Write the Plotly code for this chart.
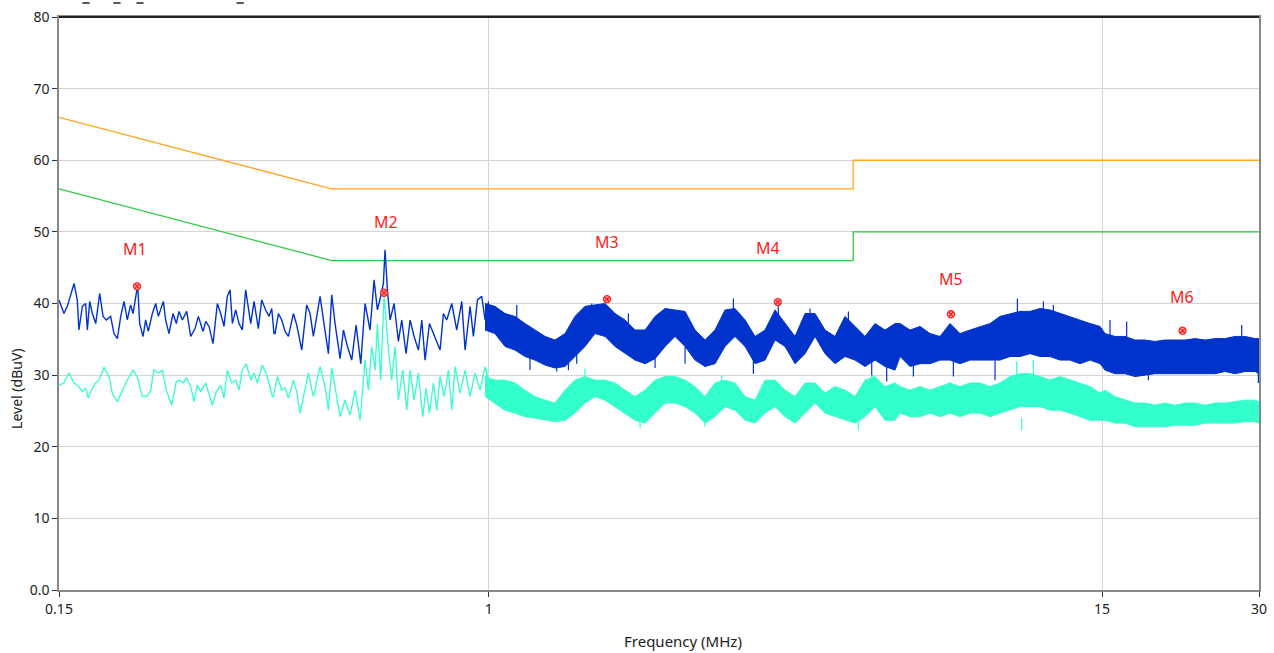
import math
import plotly.graph_objects as go

# --- limit lines (CISPR class B), MHz / dBuV ---
limit_freq = [0.15, 0.5, 5.0, 5.0, 30.0]
qp_limit = [66, 56, 56, 60, 60]
avg_limit = [56, 46, 46, 50, 50]

# --- peak trace (blue), resolved part below 1 MHz ---
peak_freq_low = [
    0.1500, 0.1533, 0.1556, 0.1603, 0.1626, 0.1638, 0.1663, 0.1687,
    0.1700, 0.1718, 0.1738, 0.1764, 0.1795, 0.1822, 0.1849, 0.1884,
    0.1912, 0.1941, 0.1970, 0.1999, 0.2028, 0.2058, 0.2080, 0.2123,
    0.2142, 0.2174, 0.2199, 0.2225, 0.2265, 0.2299, 0.2326, 0.2378,
    0.2402, 0.2438, 0.2481, 0.2518, 0.2548, 0.2586, 0.2636, 0.2683,
    0.2735, 0.2775, 0.2833, 0.2867, 0.2909, 0.2961, 0.3018, 0.3063,
    0.3108, 0.3154, 0.3192, 0.3225, 0.3273, 0.3321, 0.3370, 0.3420,
    0.3497, 0.3549, 0.3617, 0.3671, 0.3736, 0.3792, 0.3837, 0.3876,
    0.3894, 0.3952, 0.4010, 0.4070, 0.4130, 0.4222, 0.4285, 0.4381,
    0.4478, 0.4545, 0.4612, 0.4750, 0.4821, 0.4928, 0.5001, 0.5075,
    0.5189, 0.5266, 0.5360, 0.5463, 0.5569, 0.5685, 0.5794, 0.5923,
    0.6029, 0.6118, 0.6208, 0.6282, 0.6328, 0.6395, 0.6470, 0.6586,
    0.6713, 0.6813, 0.6944, 0.7068, 0.7194, 0.7333, 0.7442, 0.7552,
    0.7698, 0.7835, 0.7951, 0.8069, 0.8189, 0.8310, 0.8496, 0.8685,
    0.8879, 0.9011, 0.9212, 0.9348, 0.9516, 0.9699, 0.9843, 0.9989,
]
peak_level_low = [
    40.5, 38.6, 39.6, 42.8, 40.5, 36.3, 39.6, 40.0,
    36.3, 40.3, 38.6, 37.2, 41.4, 38.2, 37.7, 38.2,
    35.8, 35.1, 38.2, 40.3, 37.7, 39.8, 38.6, 42.6,
    37.2, 35.4, 37.7, 36.1, 38.6, 40.0, 38.2, 40.3,
    37.7, 35.8, 38.6, 37.2, 38.9, 37.7, 38.9, 35.4,
    36.5, 38.2, 36.1, 37.5, 36.8, 34.4, 40.0, 38.6,
    36.8, 41.0, 41.9, 37.2, 39.1, 37.2, 36.3, 41.9,
    37.2, 40.3, 36.5, 40.5, 39.1, 38.2, 39.3, 35.8,
    35.8, 38.6, 37.7, 36.1, 35.4, 38.6, 37.0, 33.5,
    39.8, 38.6, 35.4, 41.0, 37.7, 33.0, 41.2, 37.2,
    32.3, 36.3, 34.0, 32.1, 37.0, 31.6, 40.0, 36.3,
    43.3, 39.1, 41.0, 42.8, 47.5, 41.9, 37.7, 40.0,
    34.7, 37.7, 33.0, 37.7, 35.4, 33.5, 37.7, 32.1,
    37.2, 35.8, 34.9, 33.5, 38.6, 37.7, 40.0, 36.3,
    40.3, 33.5, 39.6, 35.4, 40.5, 41.0, 37.7, 40.0,
]

# --- average trace (cyan), resolved part below 1 MHz ---
avg_freq_low = [
    0.1500, 0.1533, 0.1568, 0.1603, 0.1638, 0.1663, 0.1687, 0.1707,
    0.1738, 0.1764, 0.1790, 0.1830, 0.1871, 0.1898, 0.1941, 0.1984,
    0.2028, 0.2080, 0.2120, 0.2167, 0.2216, 0.2249, 0.2282, 0.2326,
    0.2367, 0.2409, 0.2467, 0.2518, 0.2556, 0.2594, 0.2636, 0.2683,
    0.2723, 0.2763, 0.2804, 0.2867, 0.2909, 0.2952, 0.3005, 0.3063,
    0.3108, 0.3154, 0.3215, 0.3273, 0.3321, 0.3370, 0.3430, 0.3497,
    0.3549, 0.3601, 0.3681, 0.3764, 0.3848,
    0.3865, 0.3934, 0.4010, 0.4070, 0.4130, 0.4222, 0.4285, 0.4349,
    0.4446, 0.4511, 0.4612, 0.4750, 0.4856, 0.4928, 0.5001, 0.5113,
    0.5189, 0.5304, 0.5423, 0.5544, 0.5668, 0.5794, 0.5880, 0.5967,
    0.6056, 0.6118, 0.6208, 0.6301, 0.6423, 0.6518, 0.6615, 0.6713,
    0.6843, 0.6965, 0.7068, 0.7194, 0.7333, 0.7475, 0.7586, 0.7698,
    0.7835, 0.7951, 0.8069, 0.8213, 0.8372, 0.8496, 0.8622, 0.8814,
    0.9011, 0.9212, 0.9418, 0.9628, 0.9843, 0.9989,
]
avg_level_low = [
    28.6, 28.9, 30.3, 28.9, 28.4, 27.7, 28.2, 26.8,
    28.2, 28.9, 29.3, 31.1, 29.8, 27.5, 26.3, 27.9,
    29.3, 30.7, 29.8, 27.0, 27.1, 27.9, 30.8, 30.3,
    30.7, 27.9, 25.8, 29.1, 29.3, 28.9, 29.6, 28.4,
    26.3, 28.6, 27.7, 28.9, 27.5, 25.8, 27.7, 28.6,
    26.8, 30.7, 28.9, 29.3, 27.9, 30.7, 31.6, 29.3,
    30.3, 28.9, 31.4, 29.8, 27.0,
    27.0, 29.8, 27.9, 28.2, 26.8, 29.3, 27.7, 24.7,
    28.4, 30.3, 27.0, 31.2, 28.4, 25.1, 31.0, 27.0,
    24.2, 26.5, 24.4, 27.9, 23.7, 32.1, 27.9, 34.0,
    30.7, 37.2, 29.3, 41.0, 33.5, 29.3, 34.0, 26.5,
    30.7, 25.1, 30.7, 26.5, 30.3, 24.2, 28.2, 24.7,
    28.9, 25.1, 29.8, 27.0, 30.7, 25.1, 31.2, 27.5,
    30.7, 27.0, 30.3, 27.9, 31.2, 29.3,
]

# --- dense part above 1 MHz: band envelopes ---
band_freq = [
    0.984, 1.028, 1.075, 1.123, 1.174, 1.227, 1.283, 1.340, 1.401, 1.464, 1.530,
    1.599, 1.672, 1.747, 1.826, 1.908, 1.995, 2.085, 2.179, 2.277, 2.380, 2.487,
    2.599, 2.717, 2.839, 2.967, 3.102, 3.242, 3.388, 3.541, 3.701, 3.868,
    4.042, 4.225, 4.416, 4.615, 4.823, 5.041, 5.268, 5.506, 5.755, 6.015,
    6.149, 6.427, 6.717, 7.020, 7.337, 7.668, 8.014, 8.376, 8.754, 9.150, 9.562,
    9.994, 10.445, 10.917, 11.410, 11.925, 12.464, 13.026, 13.614, 14.229, 14.871,
    15.201, 15.888, 16.605, 17.355, 18.139, 18.958, 19.814, 20.709, 21.644,
    22.621, 23.643, 24.710, 25.826, 26.992, 28.211, 29.484, 30.0,
]
peak_band_high = [
    40.0, 39.6, 38.6, 38.2, 37.2, 36.3, 35.4, 34.9, 35.8, 38.2, 39.6,
    39.8, 40.0, 38.6, 37.7, 36.3, 36.3, 38.2, 39.3, 39.1, 38.9, 36.3,
    34.9, 36.3, 39.1, 39.3, 37.7, 35.4, 36.3, 39.1, 37.2, 35.4,
    38.6, 38.6, 36.3, 35.4, 38.2, 36.8, 35.4, 37.2, 36.3, 37.2,
    37.2, 36.3, 36.8, 35.8, 35.4, 37.2, 35.8, 36.3, 36.8, 37.2, 38.2,
    38.6, 38.9, 38.9, 39.3, 39.1, 38.6, 38.2, 37.7, 37.2, 36.8,
    35.8, 35.4, 35.4, 34.9, 34.9, 34.7, 34.9, 34.9, 34.9,
    35.1, 34.9, 35.1, 35.1, 35.4, 35.4, 35.1, 35.1,
]
peak_band_low = [
    36.3, 35.8, 34.0, 33.5, 32.6, 32.1, 31.4, 31.0, 31.2, 32.6, 34.0,
    35.8, 35.4, 34.0, 33.0, 32.1, 31.6, 32.3, 34.0, 35.4, 34.0, 32.1,
    31.2, 31.6, 34.0, 35.4, 34.0, 31.6, 32.1, 34.9, 34.0, 31.6,
    33.0, 35.4, 33.0, 31.6, 32.6, 32.1, 31.2, 32.1, 31.2, 30.7,
    32.6, 31.2, 31.6, 31.6, 32.1, 32.1, 31.6, 32.1, 32.1, 32.1, 32.1,
    32.6, 32.6, 33.0, 32.6, 32.6, 32.1, 32.1, 31.6, 32.1, 31.6,
    30.7, 30.2, 30.2, 29.8, 30.0, 30.2, 30.2, 30.2, 30.2,
    30.2, 30.2, 30.2, 30.5, 30.2, 30.5, 30.5, 30.2,
]
avg_band_high = [
    29.8, 29.3, 29.3, 28.9, 27.9, 27.0, 26.5, 26.1, 27.9, 29.3, 29.8,
    29.3, 29.3, 28.9, 27.9, 27.0, 27.9, 29.3, 29.8, 29.8, 29.3, 28.4,
    27.0, 28.9, 29.3, 28.9, 27.0, 26.5, 29.3, 29.3, 27.9, 27.0,
    28.9, 28.9, 27.5, 28.4, 27.9, 27.0, 29.3, 29.8, 28.4, 28.9,
    28.4, 27.9, 28.4, 27.9, 28.4, 28.9, 28.4, 28.9, 28.9, 28.4, 28.9,
    29.8, 30.2, 30.2, 29.8, 29.3, 29.8, 29.3, 28.9, 28.4, 27.5,
    27.9, 27.0, 26.5, 26.1, 26.1, 25.8, 26.1, 25.8, 26.1,
    26.1, 25.8, 26.1, 26.1, 26.3, 26.5, 26.5, 26.3,
]
avg_band_low = [
    27.0, 26.1, 25.1, 24.7, 24.2, 24.0, 23.7, 23.5, 23.7, 24.7, 26.1,
    27.0, 26.5, 25.6, 24.7, 23.7, 23.3, 24.7, 26.1, 26.1, 25.6, 24.7,
    23.3, 24.2, 25.6, 25.1, 23.7, 23.3, 24.7, 25.6, 24.2, 23.3,
    24.7, 26.1, 24.7, 24.2, 23.7, 23.3, 24.2, 25.6, 23.7, 23.7,
    24.7, 24.2, 24.2, 24.7, 24.2, 24.7, 24.2, 24.7, 24.7, 24.2, 24.7,
    25.1, 25.6, 25.6, 25.6, 25.1, 25.1, 24.7, 24.2, 23.7, 23.7,
    23.7, 23.3, 23.3, 22.8, 22.8, 22.8, 22.8, 23.0, 23.0,
    23.0, 23.3, 23.3, 23.3, 23.3, 23.5, 23.5, 23.3,
]

# isolated spikes sticking out of the dense bands (freq, from, to)
peak_spike_freq = [0.9986, 1.132, 1.200, 1.350, 1.422, 1.475, 1.576, 1.853,
                   2.085, 2.380, 2.946, 3.218, 3.593, 4.132, 4.895, 5.426,
                   5.797, 6.522, 7.782, 9.353, 10.323, 11.579, 12.102,
                   15.540, 16.727, 18.407, 27.79, 29.92]
peak_spike_from = [36.3, 37.0, 34.0, 33.0, 33.0, 34.0, 37.0, 35.0,
                   33.5, 34.0, 37.0, 33.0, 36.0, 36.5, 36.0, 32.0,
                   31.5, 32.0, 32.0, 32.0, 38.0, 38.0, 38.0,
                   35.0, 35.0, 30.5, 35.0, 30.5]
peak_spike_to = [40.3, 39.8, 30.7, 30.5, 30.7, 31.6, 40.0, 38.6,
                 31.0, 31.6, 40.7, 30.2, 39.6, 39.3, 38.9, 29.8,
                 29.1, 29.8, 29.8, 29.3, 40.7, 40.3, 39.8,
                 37.7, 37.5, 29.3, 37.0, 28.9]
avg_spike_freq = [0.991, 1.530, 1.951, 2.599, 2.797, 5.116, 5.426,
                  10.29, 10.52, 11.078]
avg_spike_from = [29.0, 29.0, 24.0, 24.0, 28.5, 23.5, 29.0, 29.5, 24.0, 30.0]
avg_spike_to = [30.9, 30.9, 22.6, 22.8, 30.0, 22.3, 30.0, 31.9, 22.3, 32.1]

# --- markers ---
marker_names = ["M1", "M2", "M3", "M4", "M5", "M6"]
marker_freq = [0.2117, 0.630, 1.686, 3.585, 7.70, 21.4]
marker_level = [42.4, 41.5, 40.6, 40.2, 38.5, 36.2]

assert len(peak_freq_low) == len(peak_level_low)
assert len(avg_freq_low) == len(avg_level_low)
for arr in (peak_band_high, peak_band_low, avg_band_high, avg_band_low):
    assert len(arr) == len(band_freq)
assert len(peak_spike_freq) == len(peak_spike_from) == len(peak_spike_to)
assert len(avg_spike_freq) == len(avg_spike_from) == len(avg_spike_to)


def spike_xy(freqs, lo, hi):
    xs, ys = [], []
    for f, a, b in zip(freqs, lo, hi):
        xs += [f, f, None]
        ys += [a, b, None]
    return xs, ys


BLUE = "#0033cc"
CYAN = "#33ffcc"
ORANGE = "#ffa526"
GREEN = "#2ecc40"
RED = "#ff2020"
FONT = "Noto Sans"

fig = go.Figure()

fig.add_trace(go.Scatter(x=limit_freq, y=qp_limit, mode="lines",
                         line=dict(color=ORANGE, width=1.3)))
fig.add_trace(go.Scatter(x=limit_freq, y=avg_limit, mode="lines",
                         line=dict(color=GREEN, width=1.3)))

# blue (peak)
fig.add_trace(go.Scatter(x=peak_freq_low, y=peak_level_low, mode="lines",
                         line=dict(color=BLUE, width=1.4)))
fig.add_trace(go.Scatter(x=band_freq, y=peak_band_high, mode="lines",
                         line=dict(color=BLUE, width=1)))
fig.add_trace(go.Scatter(x=band_freq, y=peak_band_low, mode="lines",
                         line=dict(color=BLUE, width=1),
                         fill="tonexty", fillcolor=BLUE))
sx, sy = spike_xy(peak_spike_freq, peak_spike_from, peak_spike_to)
fig.add_trace(go.Scatter(x=sx, y=sy, mode="lines",
                         line=dict(color=BLUE, width=1.2)))

# cyan (average)
fig.add_trace(go.Scatter(x=avg_freq_low, y=avg_level_low, mode="lines",
                         line=dict(color=CYAN, width=1.3)))
fig.add_trace(go.Scatter(x=band_freq, y=avg_band_high, mode="lines",
                         line=dict(color=CYAN, width=1)))
fig.add_trace(go.Scatter(x=band_freq, y=avg_band_low, mode="lines",
                         line=dict(color=CYAN, width=1),
                         fill="tonexty", fillcolor=CYAN))
sx, sy = spike_xy(avg_spike_freq, avg_spike_from, avg_spike_to)
fig.add_trace(go.Scatter(x=sx, y=sy, mode="lines",
                         line=dict(color=CYAN, width=1.2)))

fig.add_trace(go.Scatter(x=marker_freq, y=marker_level, mode="markers",
                         marker=dict(symbol="circle-x", size=7, color="#ffb0b0",
                                     line=dict(color=RED, width=1.3))))

# marker labels sit at different heights above their points
label_yshift = [37, 71, 57, 54, 35, 34]
label_xshift = [-2, 2, 0, -10, 0, 0]
for name, f, lv, ys, xs in zip(marker_names, marker_freq, marker_level,
                               label_yshift, label_xshift):
    fig.add_annotation(x=math.log10(f), y=lv, xref="x", yref="y", text=name,
                       showarrow=False, yshift=ys, xshift=xs,
                       font=dict(family=FONT, size=16, color=RED))

fig.add_annotation(x=0.52, y=-0.089, xref="paper", yref="paper",
                   xanchor="center", yanchor="middle",
                   text="Frequency (MHz)", showarrow=False,
                   font=dict(family=FONT, size=15, color="#222"))
fig.add_annotation(x=-0.035, y=0.351, xref="paper", yref="paper",
                   xanchor="center", yanchor="middle", textangle=-90,
                   text="Level (dBuV)", showarrow=False,
                   font=dict(family=FONT, size=14, color="#222"))

# clipped header remnants at the very top: tiny dashes
for px in [0.0225, 0.0483, 0.0675, 0.151]:
    fig.add_shape(type="line", xref="paper", yref="paper",
                  x0=px - 0.003, x1=px + 0.003, y0=1.0244, y1=1.0244,
                  line=dict(color="#222", width=1.5))

fig.add_shape(type="line", xref="paper", yref="paper", x0=0, x1=1, y0=1, y1=1,
              line=dict(color="#222", width=2))

fig.update_layout(
    width=1274, height=653,
    margin=dict(l=59, r=15, t=17, b=63),
    paper_bgcolor="white", plot_bgcolor="white",
    showlegend=False,
    font=dict(family=FONT, size=14, color="#222"),
    xaxis=dict(type="log", range=[math.log10(0.15), math.log10(30)],
               tickvals=[0.15, 1, 15, 30], ticktext=["0.15", "1", "15", "30"],
               showgrid=True, gridcolor="#d4d4d4", gridwidth=1,
               showline=True, linecolor="#888", linewidth=1.5, mirror=True,
               ticks="outside", ticklen=5, tickcolor="#333",
               zeroline=False, automargin=False),
    yaxis=dict(range=[0, 80], tickvals=[0, 10, 20, 30, 40, 50, 60, 70, 80],
               ticktext=["0.0", "10", "20", "30", "40", "50", "60", "70", "80"],
               showgrid=True, gridcolor="#d4d4d4", gridwidth=1,
               showline=True, linecolor="#888", linewidth=1.5, mirror=True,
               ticks="outside", ticklen=5, tickcolor="#333",
               zeroline=False, automargin=False),
)

# the page's default body margin would push the fixed-size figure off by 8px
fig.write_html("out.html",
               config={"displayModeBar": False},
               post_script="document.body.style.margin='0';"
                           "document.body.style.overflow='hidden';")
